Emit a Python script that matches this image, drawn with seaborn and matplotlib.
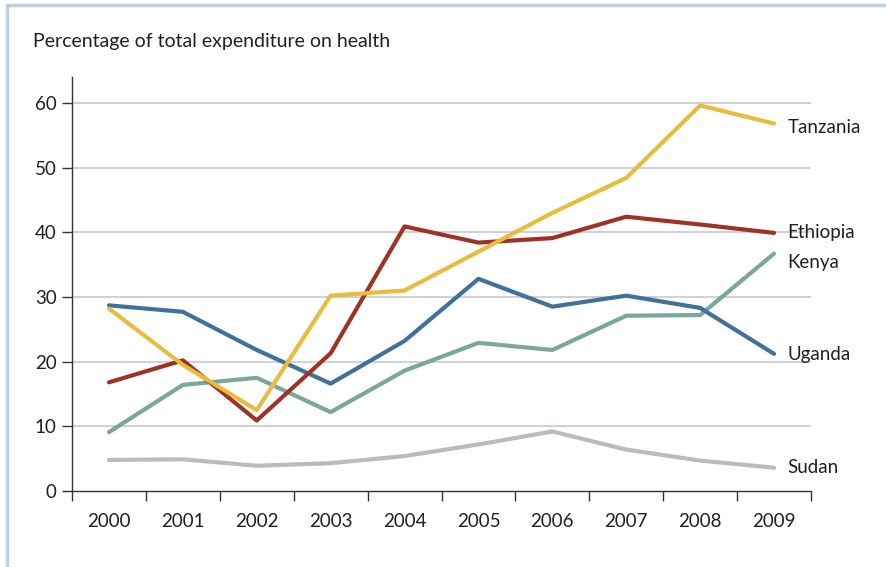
import numpy as np
import pandas as pd
import matplotlib
matplotlib.use('Agg')
import matplotlib.pyplot as plt
import seaborn as sns
from matplotlib.lines import Line2D

years = ['2000', '2001', '2002', '2003', '2004', '2005', '2006', '2007', '2008', '2009']
tanzania = [28.2, 19.5, 12.5, 30.2, 31.0, 37.0, 43.0, 48.4, 59.6, 56.8]
ethiopia = [16.8, 20.2, 10.9, 21.3, 40.9, 38.4, 39.1, 42.4, 41.2, 39.9]
kenya = [9.1, 16.4, 17.5, 12.2, 18.6, 22.9, 21.8, 27.1, 27.2, 36.7]
uganda = [28.7, 27.7, 21.8, 16.6, 23.2, 32.8, 28.5, 30.2, 28.3, 21.2]
sudan = [4.8, 4.9, 3.9, 4.3, 5.4, 7.2, 9.2, 6.4, 4.7, 3.6]

series = {'Sudan': sudan, 'Kenya': kenya, 'Uganda': uganda,
          'Ethiopia': ethiopia, 'Tanzania': tanzania}
colors = {'Tanzania': '#E8BC3C', 'Ethiopia': '#9E3325', 'Kenya': '#79A89A',
          'Uganda': '#3F719B', 'Sudan': '#B7BCC0'}
label_nudge = {'Tanzania': -0.6, 'Ethiopia': 0.1, 'Kenya': -1.3, 'Uganda': -0.1, 'Sudan': 0.1}

rows = []
for name, vals in series.items():
    for i, v in enumerate(vals):
        rows.append({'country': name, 'x': i, 'value': v})
df = pd.DataFrame(rows)

sns.set_style('white')
plt.rcParams['font.family'] = ['Lato', 'DejaVu Sans']
text_col = '#231F20'

fig = plt.figure(figsize=(8.86, 5.67), dpi=100)
ax = fig.add_axes([72/886, 1 - 491/567, (811-72)/886, (491-77)/567])

for y in range(10, 70, 10):
    ax.axhline(y, color='#CDCED2', lw=1.3, zorder=0)

sns.lineplot(data=df, x='x', y='value', hue='country', palette=colors,
             hue_order=list(series.keys()), linewidth=3, legend=False, ax=ax,
             estimator=None, sort=False)

for name, vals in series.items():
    ax.text(9.18, vals[-1] + label_nudge[name], name, fontsize=13.5,
            color=text_col, va='center', ha='left', clip_on=False)

ax.set_xlim(-0.5, 9.5)
ax.set_ylim(0, 64)
ax.set_xticks(range(10))
ax.set_xticklabels(years)
ax.set_xticks(np.arange(-0.5, 10, 1), minor=True)
ax.tick_params(axis='x', which='major', length=0, pad=16, labelsize=13.5, colors=text_col)
ax.tick_params(axis='x', which='minor', length=7, width=1, direction='out', color='#333333', bottom=True)
ax.set_yticks(range(0, 70, 10))
ax.tick_params(axis='y', length=7, width=1, direction='out', pad=4, labelsize=13.5,
               colors=text_col, color='#333333', left=True)
ax.set_xlabel('')
ax.set_ylabel('')
for s in ['top', 'right']:
    ax.spines[s].set_visible(False)
for s in ['left', 'bottom']:
    ax.spines[s].set_color('#333333')
    ax.spines[s].set_linewidth(1)

fig.text(33/886, 1 - 42/567, 'Percentage of total expenditure on health',
         fontsize=14, color=text_col, va='center', ha='left')

# frame lines top and left
fig.add_artist(Line2D([7/886, 7/886], [0, 1 - 5/567], transform=fig.transFigure,
                      color='#C5CEDF', lw=2.5))
fig.add_artist(Line2D([7/886, 1], [1 - 5/567, 1 - 5/567], transform=fig.transFigure,
                      color='#C5CEDF', lw=2.5))

fig.savefig('out.png', dpi=100)
